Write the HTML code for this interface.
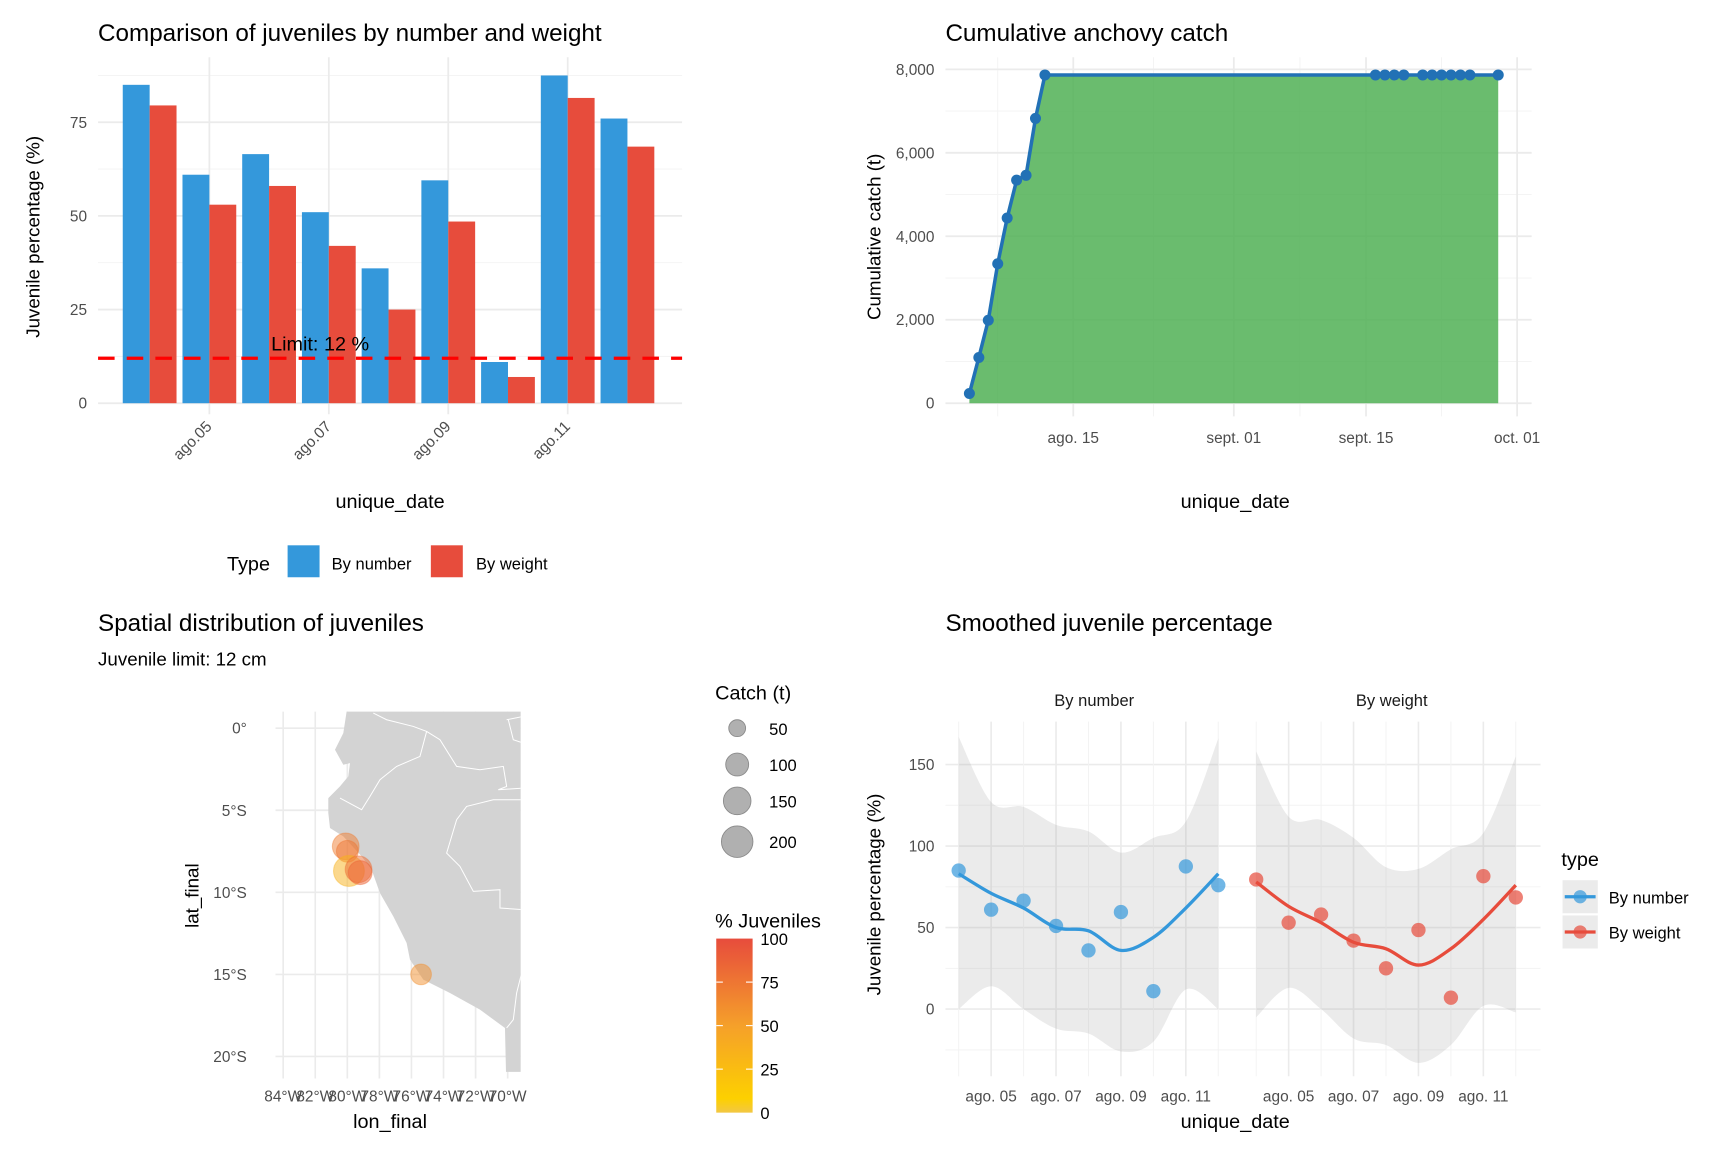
<!DOCTYPE html>
<html><head><meta charset="utf-8"><style>
html,body{margin:0;padding:0;background:#fff}
svg{display:block;font-family:"Liberation Sans",Arial,sans-serif}
</style></head><body>
<svg id="root" xmlns="http://www.w3.org/2000/svg" width="1719" height="1149" viewBox="0 0 1560 1043" preserveAspectRatio="none">
<defs>
<linearGradient id="jgrad" x1="0" y1="1" x2="0" y2="0">
<stop offset="0" stop-color="#f2c744"/><stop offset="0.08" stop-color="#fdd000"/><stop offset="0.5" stop-color="#f5a02a"/><stop offset="1" stop-color="#e74c3c"/>
</linearGradient>
<clipPath id="mapclip"><rect x="250" y="646" width="222.5" height="327"/></clipPath>
</defs>
<g id="p1"></g>
<g id="p2"></g>
<g id="p3"></g>
<g id="p4"></g>
</svg>
<script>
// ---- data ----
const barDays = [4,5,6,7,8,9,10,11,12];
const byNumber = [85,61,66.5,51,36,59.5,11,87.5,76];
const byWeight = [79.5,53,58,42,25,48.5,7,81.5,68.5];
const barYTicks = [0,25,50,75];
const barXTickDays = [5,7,9,11];
const barXTickLabels = ["ago.05","ago.07","ago.09","ago.11"];
const limitValue = 12;

// cumulative: days offset from Aug 1 (Aug 1 = 0; Sept 1 = 31; Oct 1 = 61)
const cumDays = [3,4,5,6,7,8,9,10,11,46,47,48,49,51,52,53,54,55,56,59];
const cumValues = [232,1096,1987,3341,4437,5345,5461,6824,7866,7866,7866,7866,7866,7866,7866,7866,7866,7866,7866,7866];
const cumYTicks = [0,2000,4000,6000,8000];
const cumYLabels = ["0","2,000","4,000","6,000","8,000"];
const cumXTickDays = [14,31,45,61];
const cumXLabels = ["ago. 15","sept. 01","sept. 15","oct. 01"];

// map
const ptLon = [-80.1,-80.0,-79.9,-79.3,-79.2,-75.4];
const ptLat = [-7.2,-7.5,-8.7,-8.6,-8.8,-15.0];
const ptCatch = [150,100,200,150,120,90];
const ptJuv = [70,75,35,80,85,60];
const latTicks = [0,-5,-10,-15,-20];
const latLabels = ["0°","5°S","10°S","15°S","20°S"];
const lonTicks = [-84,-82,-80,-78,-76,-74,-72,-70];
const lonLabels = ["84°W","82°W","80°W","78°W","76°W","74°W","72°W","70°W"];
const sizeLegend = [50,100,150,200];
const colorLegend = [0,25,50,75,100];

// smoothed
const smDays = [4,5,6,7,8,9,10,11,12];
const numFit = [83,71,62,50,48,36,44,62,83];
const numUpper = [167,127,124,113,109,96,105,115,166];
const numLower = [0,14,0,-12,-15,-26,-20,12,0];
const wtFit = [78,63,53,41,37,27,37,55,76];
const wtUpper = [158,118,116,105,87,86,98,108,155];
const wtLower = [-5,13,0,-18,-22,-33,-22,2,-2];
const smYTicks = [0,50,100,150];
const smXTickDays = [5,7,9,11];
const smXLabels = ["ago. 05","ago. 07","ago. 09","ago. 11"];

const NS="http://www.w3.org/2000/svg";
function mk(parent,tag,attrs,text){const e=document.createElementNS(NS,tag);for(const k in attrs)e.setAttribute(k,attrs[k]);if(text!==undefined)e.textContent=text;parent.appendChild(e);return e;}
const BLUE="#3498db", RED="#e74c3c", GRID="#ebebeb", TICK="#4d4d4d";
function crPath(pts){let d="M"+pts[0][0]+","+pts[0][1];for(let i=0;i<pts.length-1;i++){const p0=pts[i-1]||pts[i],p1=pts[i],p2=pts[i+1],p3=pts[i+2]||p2;d+=" C"+(p1[0]+(p2[0]-p0[0])/6)+","+(p1[1]+(p2[1]-p0[1])/6)+" "+(p2[0]-(p3[0]-p1[0])/6)+","+(p2[1]-(p3[1]-p1[1])/6)+" "+p2[0]+","+p2[1];}return d;}

// ---------- Panel 1 ----------
(function(){
const g=document.getElementById('p1');
const x=d=>190+(d-5)*54.2, y=v=>366-v*3.4;
let t=mk(g,'text',{x:89,y:37,'font-size':22,fill:'#000'},'Comparison of juveniles by number and weight');

for(let v=12.5;v<=87.5;v+=25){mk(g,'line',{x1:89,x2:619,y1:y(v),y2:y(v),stroke:'#f3f3f3','stroke-width':0.8});}
barYTicks.forEach(v=>{mk(g,'line',{x1:89,x2:619,y1:y(v),y2:y(v),stroke:GRID,'stroke-width':1.6});
 const l=mk(g,'text',{x:79,y:y(v)+5,'font-size':14,fill:TICK,'text-anchor':'end'},String(v));});
barXTickDays.forEach((d,i)=>{mk(g,'line',{x1:x(d),x2:x(d),y1:52,y2:376,stroke:GRID,'stroke-width':1.6});
 const l=mk(g,'text',{x:x(d)+3,y:388,'font-size':14,fill:TICK,'text-anchor':'end',transform:`rotate(-45 ${x(d)+3} 388)`},barXTickLabels[i]);});
const bw=24.4;
barDays.forEach((d,i)=>{
 let b=mk(g,'rect',{x:x(d)-bw,y:y(byNumber[i]),width:bw,height:366-y(byNumber[i]),fill:BLUE});
 
 b=mk(g,'rect',{x:x(d),y:y(byWeight[i]),width:bw,height:366-y(byWeight[i]),fill:RED});
 
});
let ln=mk(g,'line',{x1:89,x2:619,y1:y(limitValue),y2:y(limitValue),stroke:'#ff0000','stroke-width':3,'stroke-dasharray':'15,11'});

t=mk(g,'text',{x:246,y:318,'font-size':18,fill:'#000'},'Limit: '+limitValue+' %');
t=mk(g,'text',{x:0,y:0,'font-size':17,fill:'#000','text-anchor':'middle',transform:'translate(36,215) rotate(-90)'},'Juvenile percentage (%)');
t=mk(g,'text',{x:354,y:461,'font-size':18,fill:'#000','text-anchor':'middle'},'unique_date');
const lg=mk(g,'g',{});
mk(lg,'text',{x:206,y:518,'font-size':18,fill:'#000'},'Type');
let k=mk(lg,'rect',{x:261,y:495,width:29,height:29,fill:BLUE});
mk(lg,'text',{x:301,y:517,'font-size':15,fill:'#000'},'By number');
k=mk(lg,'rect',{x:391,y:495,width:29,height:29,fill:RED});
mk(lg,'text',{x:432,y:517,'font-size':15,fill:'#000'},'By weight');
})();

// ---------- Panel 2 ----------
(function(){
const g=document.getElementById('p2');
const x=d=>974+(d-14)*8.57, y=v=>366-v*0.03788;
let t=mk(g,'text',{x:858,y:37,'font-size':22,fill:'#000'},'Cumulative anchovy catch');
[1000,3000,5000,7000].forEach(v=>mk(g,'line',{x1:858,x2:1390,y1:y(v),y2:y(v),stroke:'#f3f3f3','stroke-width':0.8}));
[6,22.5,38,53].forEach(d=>mk(g,'line',{x1:x(d),x2:x(d),y1:52,y2:378,stroke:'#f3f3f3','stroke-width':0.8}));
cumYTicks.forEach((v,i)=>{mk(g,'line',{x1:858,x2:1390,y1:y(v),y2:y(v),stroke:GRID,'stroke-width':1.6});
 const l=mk(g,'text',{x:848,y:y(v)+5,'font-size':14,fill:TICK,'text-anchor':'end'},cumYLabels[i]);});
cumXTickDays.forEach((d,i)=>{mk(g,'line',{x1:x(d),x2:x(d),y1:52,y2:378,stroke:GRID,'stroke-width':1.6});
 const l=mk(g,'text',{x:x(d),y:402,'font-size':14,fill:TICK,'text-anchor':'middle'},cumXLabels[i]);});
let d="M"+x(cumDays[0])+","+y(0);cumDays.forEach((dd,i)=>d+=" L"+x(dd)+","+y(cumValues[i]));d+=" L"+x(cumDays[cumDays.length-1])+","+y(0)+" Z";
let a=mk(g,'path',{d:d,fill:'#4caf50','fill-opacity':0.83});
let ld="";cumDays.forEach((dd,i)=>ld+=(i?" L":"M")+x(dd)+","+y(cumValues[i]));
a=mk(g,'path',{d:ld,fill:'none',stroke:'#2271b5','stroke-width':3.2});
cumDays.forEach((dd,i)=>{const c=mk(g,'circle',{cx:x(dd),cy:y(cumValues[i]),r:5,fill:'#2271b5'});});
t=mk(g,'text',{x:0,y:0,'font-size':17,fill:'#000','text-anchor':'middle',transform:'translate(799,215) rotate(-90)'},'Cumulative catch (t)');
t=mk(g,'text',{x:1121,y:461,'font-size':18,fill:'#000','text-anchor':'middle'},'unique_date');
})();

// ---------- Panel 3 ----------
(function(){
const g=document.getElementById('p3');
const x=lon=>257+(lon+84)*14.55;
const Y=lat=>661+(-lat)*14.9;
let t=mk(g,'text',{x:89,y:573,'font-size':22,fill:'#000'},'Spatial distribution of juveniles');
t=mk(g,'text',{x:89,y:604,'font-size':17,fill:'#000'},'Juvenile limit: 12 cm');
latTicks.forEach((v,i)=>{mk(g,'line',{x1:250,x2:472.5,y1:Y(v),y2:Y(v),stroke:GRID,'stroke-width':1.5});
 const l=mk(g,'text',{x:224,y:Y(v)+5,'font-size':14,fill:TICK,'text-anchor':'end'},latLabels[i]);});
lonTicks.forEach((v,i)=>{mk(g,'line',{x1:x(v),x2:x(v),y1:646,y2:979,stroke:GRID,'stroke-width':1.5});
 const l=mk(g,'text',{x:x(v),y:1000,'font-size':14,fill:TICK,'text-anchor':'middle'},lonLabels[i]);});
const m=mk(g,'g',{'clip-path':'url(#mapclip)'});
const lg=mk(m,'g',{transform:`translate(${180/1.102},${700/1.102}) scale(${1/(3*1.102)})`});
let land=mk(lg,'path',{d:"M500,0 L500,35 L490,100 L465,150 L490,195 L510,190 L505,230 L480,260 L445,295 L445,340 L450,385 L490,410 L545,470 L575,510 L600,580 L640,650 L680,730 L690,780 L730,840 L810,880 L900,930 L975,985 L980,1200 L1100,1200 L1100,0 Z",fill:'#d3d3d3'});

const bs=["M480,295 L545,330 L570,290 L600,240 L650,200 L720,170 L740,95 L700,80 L620,60 L580,40",
"M740,95 L780,120 L830,200 L900,210 L970,200 L980,260 L955,270 L1030,265",
"M1030,300 L940,300 L860,320 L830,360 L800,460 L840,500 L880,575 L960,570 L960,625 L1030,630",
"M1030,800 L1010,880 L1000,960 L980,985","M980,60 L1030,50","M985,60 L1000,120 L1030,130"];
bs.forEach(p=>{const b=mk(lg,'path',{d:p,fill:'none',stroke:'#fff','stroke-width':3});});
function jcol(v){const s=[[0,[242,199,68]],[8,[253,208,0]],[50,[245,160,42]],[100,[231,76,60]]];for(let i=0;i<s.length-1;i++){if(v<=s[i+1][0]){const f=(v-s[i][0])/(s[i+1][0]-s[i][0]);return 'rgb('+s[i][1].map((c,j)=>Math.round(c+(s[i+1][1][j]-c)*f)).join(',')+')';}}return 'rgb(231,76,60)';}
const rs=c=>Math.sqrt(c/200)*14;
ptLon.forEach((lon,i)=>{const c=mk(m,'circle',{cx:x(lon),cy:Y(ptLat[i]),r:rs(ptCatch[i]),fill:jcol(ptJuv[i]),'fill-opacity':0.5,stroke:jcol(ptJuv[i]),'stroke-opacity':0.4});});
t=mk(g,'text',{x:0,y:0,'font-size':17,fill:'#000','text-anchor':'middle',transform:'translate(180,813) rotate(-90)'},'lat_final');
t=mk(g,'text',{x:354,y:1024,'font-size':18,fill:'#000','text-anchor':'middle'},'lon_final');
const sl=mk(g,'g',{});
mk(sl,'text',{x:649,y:635,'font-size':18,fill:'#000'},'Catch (t)');
const ly=[661,694,727,764];
sizeLegend.forEach((v,i)=>{mk(sl,'circle',{cx:669,cy:ly[i],r:rs(v)*0.95+1,fill:'#b0b0b0',stroke:'#8a8a8a','stroke-width':0.8});mk(sl,'text',{x:698,y:ly[i]+6,'font-size':15,fill:'#000'},String(v));});
const cl=mk(g,'g',{});
mk(cl,'text',{x:649,y:842,'font-size':18,fill:'#000'},'% Juveniles');
mk(cl,'rect',{x:650,y:852,width:33,height:158,fill:'url(#jgrad)'});
colorLegend.forEach(v=>{const yy=1010-v*1.58;if(v>0&&v<100){mk(cl,'line',{x1:650,x2:656,y1:yy,y2:yy,stroke:'#fff','stroke-width':1});mk(cl,'line',{x1:677,x2:683,y1:yy,y2:yy,stroke:'#fff','stroke-width':1});}
 mk(cl,'text',{x:690,y:yy+6,'font-size':15,fill:'#000'},String(v));});
})();

// ---------- Panel 4 ----------
(function(){
const g=document.getElementById('p4');
const y=v=>916-v*1.48;
let t=mk(g,'text',{x:858,y:573,'font-size':22,fill:'#000'},'Smoothed juvenile percentage');
function facet(x0,label,fit,up,lo,pts,col,name){
 const x=d=>x0+(d-4)*29.45;
 const f=mk(g,'g',{});
 const L=x0-12,R=x0+258;
 [-25,25,75,125].forEach(v=>mk(f,'line',{x1:L,x2:R,y1:y(v),y2:y(v),stroke:'#f3f3f3','stroke-width':0.9}));
 smYTicks.forEach(v=>mk(f,'line',{x1:L,x2:R,y1:y(v),y2:y(v),stroke:GRID,'stroke-width':1.5}));
 smDays.forEach(d=>mk(f,'line',{x1:x(d),x2:x(d),y1:655,y2:977,stroke:(d%2?GRID:'#f3f3f3'),'stroke-width':(d%2?1.5:0.9)}));
 const upP=smDays.map((d,i)=>[x(d),y(up[i])]), loP=smDays.map((d,i)=>[x(d),y(lo[i])]).reverse();
 let dd=crPath(upP)+" L"+loP[0][0]+","+loP[0][1]+crPath(loP).slice(crPath(loP).indexOf('C')-1)+" Z";
 let b=mk(f,'path',{d:dd,fill:'#999','fill-opacity':0.2});
 pts.forEach((v,i)=>{const c=mk(f,'circle',{cx:x(smDays[i]),cy:y(v),r:6.5,fill:col,'fill-opacity':0.7});});
 b=mk(f,'path',{d:crPath(smDays.map((d,i)=>[x(d),y(fit[i])])),fill:'none',stroke:col,'stroke-width':3});
 t=mk(f,'text',{x:(L+R)/2,y:641,'font-size':15,fill:'#1a1a1a','text-anchor':'middle'},label);
 smXTickDays.forEach((d,i)=>{const l=mk(f,'text',{x:x(d),y:1000,'font-size':14,fill:TICK,'text-anchor':'middle'},smXLabels[i]);});
}
facet(870,'By number',numFit,numUpper,numLower,byNumber,BLUE,'by-number');
facet(1140,'By weight',wtFit,wtUpper,wtLower,byWeight,RED,'by-weight');
smYTicks.forEach(v=>{const l=mk(g,'text',{x:848,y:y(v)+5,'font-size':14,fill:TICK,'text-anchor':'end'},String(v));});
t=mk(g,'text',{x:0,y:0,'font-size':17,fill:'#000','text-anchor':'middle',transform:'translate(799,812) rotate(-90)'},'Juvenile percentage (%)');
t=mk(g,'text',{x:1121,y:1024,'font-size':18,fill:'#000','text-anchor':'middle'},'unique_date');
const lg=mk(g,'g',{});
mk(lg,'text',{x:1417,y:786,'font-size':18,fill:'#000'},'type');
[[BLUE,'By number',814],[RED,'By weight',846]].forEach(a=>{
 mk(lg,'rect',{x:1418,y:a[2]-15,width:32,height:30,fill:'#ebebeb'});
 mk(lg,'line',{x1:1420,x2:1448,y1:a[2],y2:a[2],stroke:a[0],'stroke-width':3});
 mk(lg,'circle',{cx:1434,cy:a[2],r:6,fill:a[0],'fill-opacity':0.7});
 mk(lg,'text',{x:1460,y:a[2]+6,'font-size':15,fill:'#000'},a[1]);
});
})();
</script>
</body></html>
